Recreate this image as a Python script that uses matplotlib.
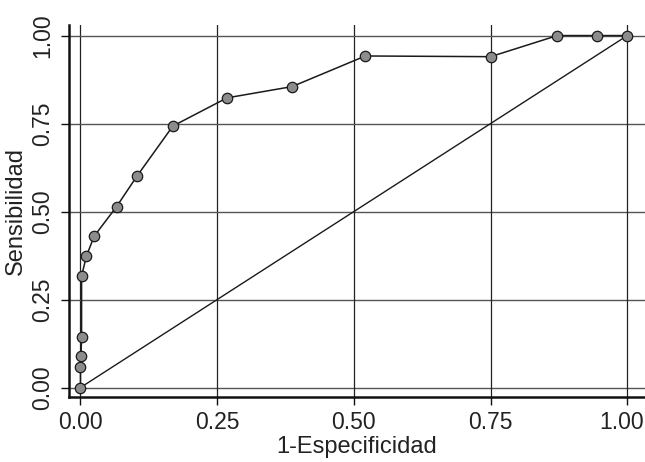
import matplotlib
matplotlib.use("Agg")
import matplotlib.pyplot as plt
from matplotlib.transforms import ScaledTranslation

plt.rcParams['font.family'] = ['Liberation Sans', 'DejaVu Sans']

## ROC curve points
fpr = [0.0, 0.0, 0.001, 0.002, 0.002, 0.011, 0.025, 0.066, 0.103, 0.169,
       0.268, 0.387, 0.521, 0.750, 0.872, 0.945, 1.0]
tpr = [0.0, 0.059, 0.090, 0.145, 0.317, 0.374, 0.430, 0.514, 0.600, 0.743,
       0.823, 0.855, 0.942, 0.940, 1.0, 1.0, 1.0]
ref_line = [0.0, 1.0]
ticks = [0.0, 0.25, 0.50, 0.75, 1.0]
tick_labels = ["0.00", "0.25", "0.50", "0.75", "1.00"]
x_title = "1-Especificidad"
y_title = "Sensibilidad"

fig = plt.figure(figsize=(6.45, 4.62), dpi=100)
ax = fig.add_axes([69/645, 1 - 396.7/462, 1 - 69/645, (396.7 - 25)/462])
ax.set_xlim(-0.021, 1.0324)
ax.set_ylim(-0.026, 1.030)

# grid like Stata: horizontal grey, vertical black
for t in ticks:
    ax.axhline(t, color='#555555', lw=1.0, zorder=1)
    ax.axvline(t, color='#222222', lw=0.9, zorder=1)

ax.plot(ref_line, ref_line, color='#1a1a1a', lw=1.0, zorder=2)
ax.plot(fpr, tpr, color='#1a1a1a', lw=1.1, marker='o', markersize=7.5,
        markerfacecolor='#8c8c8c', markeredgecolor='#1a1a1a',
        markeredgewidth=0.9, zorder=3, clip_on=False)

for side in ['top', 'right']:
    ax.spines[side].set_visible(False)
for side in ['left', 'bottom']:
    ax.spines[side].set_linewidth(1.8)
    ax.spines[side].set_color('#111111')

ax.set_xticks(ticks)
ax.set_xticklabels(tick_labels)
ax.set_yticks(ticks)
ax.set_yticklabels(tick_labels, rotation=90, va='center')
ax.tick_params(axis='both', direction='out', length=5.5, width=1.0,
               color='#111111', labelsize=16.5, labelcolor='#222222')
ax.tick_params(axis='x', pad=4.5)
ax.tick_params(axis='y', pad=5)

# last x label sits a bit left so it stays inside the picture
last = ax.get_xticklabels()[-1]
last.set_transform(last.get_transform() + ScaledTranslation(-0.06, 0, fig.dpi_scale_trans))

ax.set_xlabel(x_title, fontsize=17, color='#222222', labelpad=2)
ax.set_ylabel(y_title, fontsize=17, color='#222222', labelpad=3)

fig.savefig("out.png", dpi=100)
